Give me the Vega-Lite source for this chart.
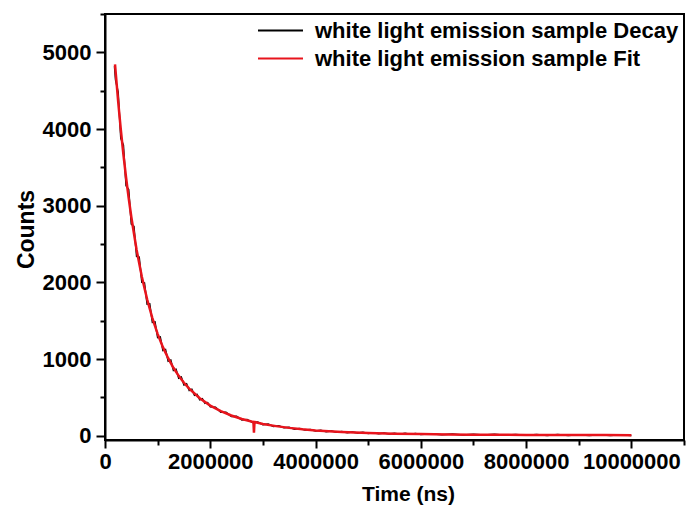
{
  "$schema": "https://vega.github.io/schema/vega-lite/v6.json",
  "width": 579,
  "height": 426,
  "autosize": {"type": "none"},
  "padding": {"left": 105, "top": 14, "right": 9, "bottom": 66},
  "background": "white",
  "config": {
    "font": "Liberation Sans",
    "view": {"stroke": "#000000", "strokeWidth": 2},
    "axis": {"grid": false, "domainColor": "#000000", "domainWidth": 2, "tickColor": "#000000", "tickWidth": 2, "labelColor": "#000000", "titleColor": "#000000", "labelFont": "Liberation Sans", "titleFont": "Liberation Sans", "labelFontWeight": "bold", "titleFontWeight": "bold", "labelFontSize": 22}
  },
  "resolve": {"axis": {"x": "independent", "y": "independent"}},
  "layer": [
    {
      "data": {"values": [
        {"t": 180000, "c": 4820}, {"t": 200000, "c": 4640}, {"t": 250000, "c": 4480}, {"t": 300000, "c": 3880},
        {"t": 350000, "c": 3790}, {"t": 400000, "c": 3260}, {"t": 450000, "c": 3210}, {"t": 500000, "c": 2760},
        {"t": 550000, "c": 2730}, {"t": 600000, "c": 2340}, {"t": 650000, "c": 2330}, {"t": 700000, "c": 2000},
        {"t": 750000, "c": 1995}, {"t": 800000, "c": 1715}, {"t": 850000, "c": 1720}, {"t": 900000, "c": 1478},
        {"t": 950000, "c": 1485}, {"t": 1000000, "c": 1280}, {"t": 1050000, "c": 1290}, {"t": 1100000, "c": 1112},
        {"t": 1150000, "c": 1125}, {"t": 1200000, "c": 972}, {"t": 1250000, "c": 988}, {"t": 1300000, "c": 852},
        {"t": 1350000, "c": 868}, {"t": 1400000, "c": 751}, {"t": 1450000, "c": 767}, {"t": 1500000, "c": 664},
        {"t": 1550000, "c": 679}, {"t": 1600000, "c": 590}, {"t": 1650000, "c": 606}, {"t": 1700000, "c": 528},
        {"t": 1750000, "c": 540}, {"t": 1800000, "c": 470}, {"t": 1850000, "c": 483}, {"t": 1900000, "c": 423},
        {"t": 1950000, "c": 433}, {"t": 2000000, "c": 378}, {"t": 2100000, "c": 372}, {"t": 2200000, "c": 306},
        {"t": 2300000, "c": 306}, {"t": 2400000, "c": 252}, {"t": 2500000, "c": 254}, {"t": 2600000, "c": 207},
        {"t": 2700000, "c": 213}, {"t": 2800000, "c": 173}, {"t": 2900000, "c": 179}, {"t": 3000000, "c": 144},
        {"t": 3100000, "c": 152}, {"t": 3200000, "c": 122}, {"t": 3300000, "c": 130}, {"t": 3400000, "c": 104},
        {"t": 3500000, "c": 111}, {"t": 3600000, "c": 87}, {"t": 3700000, "c": 96}, {"t": 3800000, "c": 74},
        {"t": 3900000, "c": 83}, {"t": 4000000, "c": 63}, {"t": 4100000, "c": 71}, {"t": 4200000, "c": 54},
        {"t": 4300000, "c": 63}, {"t": 4400000, "c": 47}, {"t": 4500000, "c": 56}, {"t": 4600000, "c": 41},
        {"t": 4700000, "c": 50}, {"t": 4800000, "c": 35}, {"t": 4900000, "c": 45}, {"t": 5000000, "c": 30},
        {"t": 5100000, "c": 40}, {"t": 5200000, "c": 27}, {"t": 5300000, "c": 37}, {"t": 5400000, "c": 24},
        {"t": 5500000, "c": 34}, {"t": 5600000, "c": 21}, {"t": 5700000, "c": 32}, {"t": 5800000, "c": 19},
        {"t": 5900000, "c": 29}, {"t": 6000000, "c": 17}, {"t": 6200000, "c": 26}, {"t": 6400000, "c": 13},
        {"t": 6600000, "c": 24}, {"t": 6800000, "c": 11}, {"t": 7000000, "c": 21}, {"t": 7200000, "c": 9},
        {"t": 7400000, "c": 19}, {"t": 7600000, "c": 8}, {"t": 7800000, "c": 18}, {"t": 8000000, "c": 6},
        {"t": 8200000, "c": 17}, {"t": 8400000, "c": 5}, {"t": 8600000, "c": 16}, {"t": 8800000, "c": 4},
        {"t": 9000000, "c": 15}, {"t": 9200000, "c": 4}, {"t": 9400000, "c": 14}, {"t": 9600000, "c": 3},
        {"t": 9800000, "c": 14}, {"t": 10000000, "c": 4}
      ]},
      "mark": {"type": "line", "strokeWidth": 1.5, "clip": true},
      "encoding": {
        "x": {"field": "t", "type": "quantitative",
          "scale": {"domain": [0, 11000000], "nice": false, "zero": false},
          "axis": {"values": [0, 2000000, 4000000, 6000000, 8000000, 10000000], "format": "d", "tickSize": 8, "labelPadding": 3, "labelOverlap": false, "labelFlush": false, "orient": "bottom",
            "title": "Time (ns)", "titleFontSize": 21, "titleX": 303, "titleY": 60, "titleBaseline": "alphabetic", "titleAlign": "center", "titleAnchor": null}},
        "y": {"field": "c", "type": "quantitative",
          "scale": {"domain": [-55, 5500], "nice": false, "zero": false},
          "axis": {"values": [0, 1000, 2000, 3000, 4000, 5000], "format": "d", "tickSize": 9, "labelPadding": 5, "labelOverlap": false, "labelFlush": false, "orient": "left",
            "title": "Counts", "titleFontSize": 23, "titleX": -72, "titleY": 215, "titleAngle": -90, "titleBaseline": "alphabetic", "titleAlign": "center", "titleAnchor": null}},
        "color": {"datum": "white light emission sample Decay", "type": "nominal",
          "scale": {"domain": ["white light emission sample Decay", "white light emission sample Fit"], "range": ["#000000", "#e8141c"]},
          "legend": {"title": null, "orient": "none", "legendX": 163, "legendY": 4, "padding": 0, "symbolType": "M-2,0H2", "symbolSize": 506, "symbolStrokeWidth": 2, "labelFontSize": 22, "labelFontWeight": "bold", "labelFont": "Liberation Sans", "labelColor": "#000000", "labelLimit": 600, "labelOffset": 22, "rowPadding": 4}}
      }
    },
    {
      "data": {"values": [
        {"t": 190000, "c": 4843}, {"t": 250000, "c": 4359}, {"t": 300000, "c": 3996}, {"t": 350000, "c": 3667},
        {"t": 400000, "c": 3368}, {"t": 450000, "c": 3099}, {"t": 500000, "c": 2853}, {"t": 600000, "c": 2426},
        {"t": 700000, "c": 2074}, {"t": 800000, "c": 1780}, {"t": 900000, "c": 1535}, {"t": 1000000, "c": 1329},
        {"t": 1100000, "c": 1156}, {"t": 1200000, "c": 1012}, {"t": 1300000, "c": 887}, {"t": 1400000, "c": 782},
        {"t": 1500000, "c": 692}, {"t": 1600000, "c": 615}, {"t": 1800000, "c": 490}, {"t": 2000000, "c": 394},
        {"t": 2200000, "c": 321}, {"t": 2400000, "c": 265}, {"t": 2600000, "c": 219}, {"t": 2800000, "c": 184},
        {"t": 2820000, "c": 181}, {"t": 2830000, "c": 40}, {"t": 2840000, "c": 180},
        {"t": 3000000, "c": 154}, {"t": 3250000, "c": 126}, {"t": 3500000, "c": 103}, {"t": 3750000, "c": 84},
        {"t": 4000000, "c": 70}, {"t": 4500000, "c": 50}, {"t": 5000000, "c": 36}, {"t": 5500000, "c": 28},
        {"t": 6000000, "c": 22}, {"t": 6500000, "c": 18}, {"t": 7000000, "c": 15}, {"t": 7500000, "c": 13},
        {"t": 8000000, "c": 11}, {"t": 8500000, "c": 10}, {"t": 9000000, "c": 9}, {"t": 9500000, "c": 9},
        {"t": 10000000, "c": 8}
      ]},
      "mark": {"type": "line", "strokeWidth": 2.5, "clip": true},
      "encoding": {
        "x": {"field": "t", "type": "quantitative",
          "axis": {"values": [1000000, 3000000, 5000000, 7000000, 9000000, 11000000], "tickSize": 5, "labels": false, "domain": false, "title": null, "orient": "bottom"}},
        "y": {"field": "c", "type": "quantitative",
          "axis": {"values": [500, 1500, 2500, 3500, 4500, 5500], "tickSize": 5, "labels": false, "domain": false, "title": null, "orient": "left"}},
        "color": {"datum": "white light emission sample Fit", "type": "nominal"}
      }
    }
  ]
}
